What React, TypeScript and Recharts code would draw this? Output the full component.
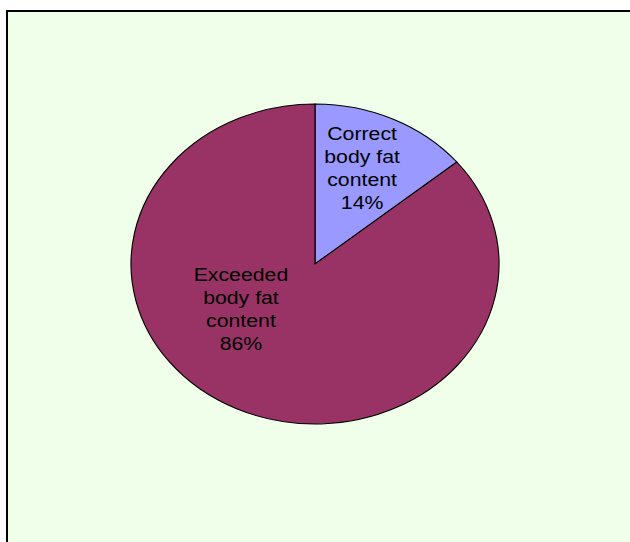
import { PieChart, Pie, Cell } from "recharts";

const categories = ["Correct body fat content", "Exceeded body fat content"];
const labelLines = [
  ["Correct", "body fat", "content"],
  ["Exceeded", "body fat", "content"],
];
const values = [14, 86];
const colors = ["#9999FF", "#993366"];

// Excel drops the labels a bit off the slice middle
const labelSpot = [
  { shift: 2, r: 0.65 },
  { shift: -30, r: 0.49 },
];

const data = categories.map((name, i) => ({ name, value: values[i] }));

const STRETCH = 1.15;
const W = 548;
const H = 542;
const RAD = Math.PI / 180;

function renderLabel(props: any) {
  const { cx, cy, midAngle, outerRadius, percent, index } = props;
  const spot = labelSpot[index];
  const a = (midAngle + spot.shift) * RAD;
  const x = cx + outerRadius * spot.r * Math.cos(a);
  const y = cy - outerRadius * spot.r * Math.sin(a);
  const lines = [...labelLines[index], `${Math.round(percent * 100)}%`];
  const lh = 23;
  return (
    <text
      x={x}
      y={y}
      textAnchor="middle"
      dominantBaseline="central"
      fill="#000"
      fontSize={18.5}
      fontFamily="'Liberation Sans', Arial, sans-serif"
    >
      {lines.map((t, i) => (
        <tspan key={i} x={x} y={y + (i - (lines.length - 1) / 2) * lh}>
          {t}
        </tspan>
      ))}
    </text>
  );
}

export default function App() {
  return (
    <div
      style={{
        position: "fixed",
        left: 0,
        top: 0,
        width: 630,
        height: 542,
        overflow: "hidden",
        background: "#fff",
      }}
    >
      <div
        style={{
          position: "absolute",
          left: 6,
          top: 10,
          width: 700,
          height: 600,
          border: "2px solid #000",
          background: "#F0FFEA",
        }}
      />
      <div
        style={{
          position: "absolute",
          left: 0,
          top: 0,
          width: W,
          height: H,
          transform: `scaleX(${STRETCH})`,
          transformOrigin: "0 0",
        }}
      >
        <PieChart width={W} height={H} margin={{ top: 0, right: 0, bottom: 0, left: 0 }}>
          <Pie
            data={data}
            dataKey="value"
            nameKey="name"
            cx={315 / STRETCH}
            cy={264}
            outerRadius={160}
            startAngle={90}
            endAngle={-270}
            stroke="#000"
            strokeWidth={1}
            label={renderLabel}
            labelLine={false}
            isAnimationActive={false}
          >
            {data.map((d, i) => (
              <Cell key={d.name} fill={colors[i]} />
            ))}
          </Pie>
        </PieChart>
      </div>
    </div>
  );
}
